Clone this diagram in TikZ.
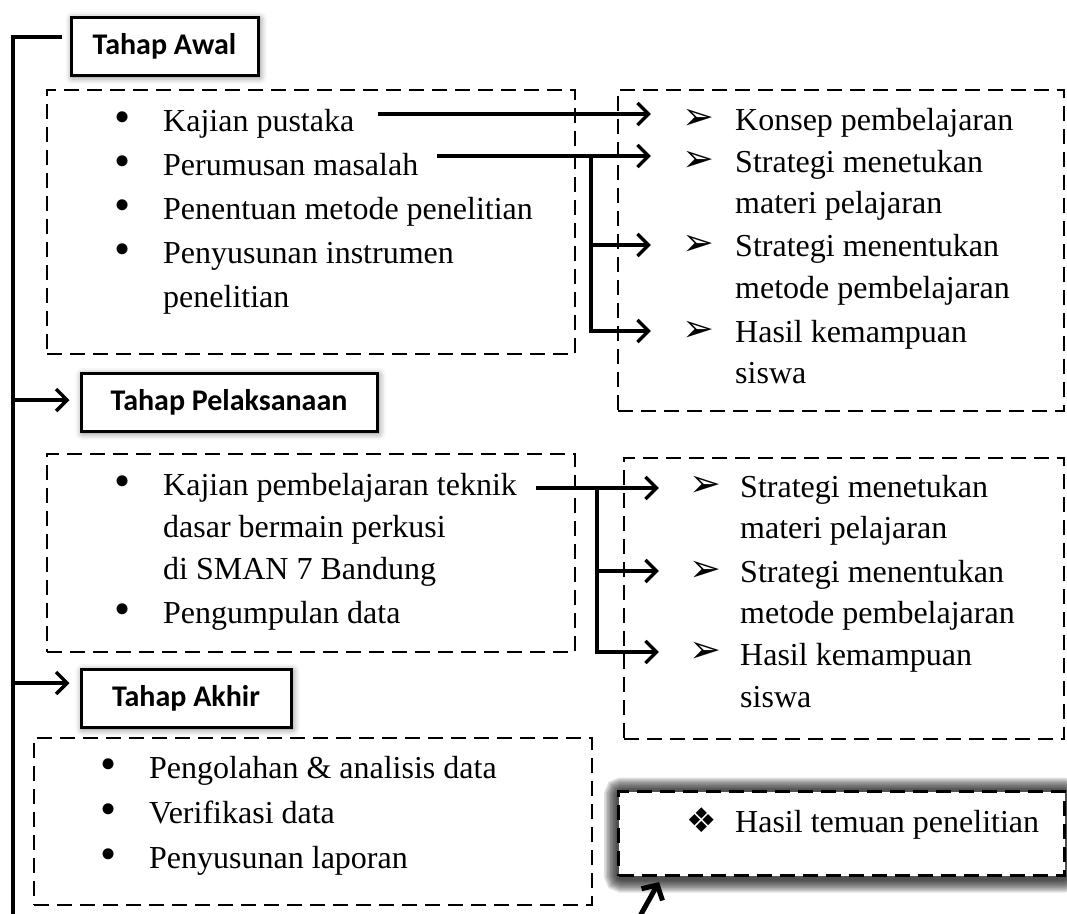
\documentclass[tikz,border=0pt]{standalone}
\usepackage{fontspec}
\setmainfont{Liberation Serif}
\newfontfamily\hfont{Carlito}
\newfontfamily\symfont{DejaVu Sans}
\usetikzlibrary{arrows.meta,shadows.blur,backgrounds,calc}
\begin{document}
\begin{tikzpicture}[x=1pt,y=-1pt,
  txt/.style={inner sep=0pt, anchor=base west, font=\fontsize{32}{40}\selectfont},
  bul/.style={inner sep=0pt, anchor=center, font=\fontsize{46}{50}\selectfont},
  abul/.style={inner sep=0pt, anchor=center, font=\symfont\fontsize{38}{40}\selectfont},
  dbox/.style={draw, line width=2.2pt, dash pattern=on 15pt off 8pt, inner sep=0pt, anchor=north west},
  hbox/.style={draw, line width=3pt, fill=white, inner sep=0pt,
    font=\hfont\bfseries\fontsize{30}{34}\selectfont,
    blur shadow={shadow xshift=1.5pt, shadow yshift=-2pt, shadow blur radius=7pt, shadow opacity=55}},
  spine/.style={line width=4pt},
  arr/.style={line width=3.4pt, -{Straight Barb[length=11pt,width=22pt,line width=3.4pt]}},
  bigarr/.style={line width=5pt, -{Straight Barb[length=11pt,width=24pt,line width=5pt]}},
]
\useasboundingbox (0,0) rectangle (1067,913);

% ---------- header boxes ----------
\node[hbox, minimum width=187, minimum height=58] (awal)  at (164.5,46) {Tahap Awal};
\node[hbox, minimum width=296, minimum height=58] (pelak) at (229,402)  {Tahap Pelaksanaan};
\node[hbox, minimum width=210, minimum height=58] (akhir) at (186,698)  {Tahap Akhir};

% ---------- dashed boxes ----------
\node[dbox, minimum width=528, minimum height=264] (B1) at (46,89)  {};
\node[dbox, minimum width=446, minimum height=321] (R1) at (617,89) {};
\node[dbox, minimum width=528, minimum height=198] (B2) at (46,453) {};
\node[dbox, minimum width=440, minimum height=281] (R2) at (623,457) {};
\node[dbox, minimum width=558, minimum height=167] (B3) at (33,737) {};

% result box with dark glow
\node[draw, line width=3pt, dash pattern=on 15pt off 8pt, fill=white, inner sep=0pt,
      anchor=north west, minimum width=446, minimum height=84] (H) at (617,790) {};
\begin{scope}[on background layer]
  \foreach \w in {28,25,22,19,16,13,10,7,4}
    \draw[line width=\w pt, black, opacity=0.12, rounded corners=4pt]
      ([shift={(1,1.5)}]H.north west) rectangle ([shift={(1,1.5)}]H.south east);
\end{scope}

% ---------- box 1 texts ----------
\node[bul] (ab1) at (122.5,122) {\textbullet};
\node[txt] (a1) at (163,131) {Kajian pustaka};
\node[bul] (ab2) at (122.5,166) {\textbullet};
\node[txt] (a2) at (163,175) {Perumusan masalah};
\node[bul] (ab3) at (122.5,210) {\textbullet};
\node[txt] (a3) at (163,219) {Penentuan metode penelitian};
\node[bul] (ab4) at (122.5,254) {\textbullet};
\node[txt] (a4) at (163,263) {Penyusunan instrumen};
\node[txt] (a4b) at (163,307) {penelitian};

% ---------- right box 1 texts ----------
\node[abul] (rb1) at (698,119) {➢};
\node[txt] (r1) at (735,130) {Konsep pembelajaran};
\node[abul] (rb2) at (698,161) {➢};
\node[txt] (r2) at (735,172) {Strategi menetukan};
\node[txt] (r2b) at (735,213) {materi pelajaran};
\node[abul] (rb3) at (698,245) {➢};
\node[txt] (r3) at (735,256) {Strategi menentukan};
\node[txt] (r3b) at (735,298) {metode pembelajaran};
\node[abul] (rb4) at (698,331) {➢};
\node[txt] (r4) at (735,342) {Hasil kemampuan};
\node[txt] (r4b) at (735,383) {siswa};

% ---------- box 2 texts ----------
\node[bul] (kb1) at (122.5,486) {\textbullet};
\node[txt] (k1) at (163,495) {Kajian pembelajaran teknik};
\node[txt] (k1b) at (163,537) {dasar bermain perkusi};
\node[txt] (k1c) at (163,579) {di SMAN 7 Bandung};
\node[bul] (kb2) at (122.5,614) {\textbullet};
\node[txt] (k2) at (163,623) {Pengumpulan data};

% ---------- right box 2 texts ----------
\node[abul] (qb1) at (705,486) {➢};
\node[txt] (q1) at (740,497) {Strategi menetukan};
\node[txt] (q1b) at (740,538) {materi pelajaran};
\node[abul] (qb2) at (705,571) {➢};
\node[txt] (q2) at (740,582) {Strategi menentukan};
\node[txt] (q2b) at (740,623) {metode pembelajaran};
\node[abul] (qb3) at (705,652) {➢};
\node[txt] (q3) at (740,665) {Hasil kemampuan};
\node[txt] (q3b) at (740,707) {siswa};

% ---------- box 3 texts ----------
\node[bul] (pb1) at (109,769) {\textbullet};
\node[txt] (p1) at (149,778) {Pengolahan \& analisis data};
\node[bul] (pb2) at (109,814) {\textbullet};
\node[txt] (p2) at (149,823) {Verifikasi data};
\node[bul] (pb3) at (109,859) {\textbullet};
\node[txt] (p3) at (149,868) {Penyusunan laporan};

% ---------- result texts ----------
\node[inner sep=0pt, font=\symfont\fontsize{34}{36}\selectfont] (hb) at (702,820) {❖};
\node[txt] (ht) at (735,832) {Hasil temuan penelitian};

% ---------- spine ----------
\coordinate (top) at (13,37);
\coordinate (bot) at (13,925);
\draw[spine] ([xshift=-8pt]awal.west |- top) -- (top) -- (bot);
\coordinate (pa) at ([xshift=-10pt,yshift=2pt]pelak.west);
\draw[arr] (pa -| top) -- (pa);
\coordinate (aa) at ([xshift=-10pt,yshift=15pt]akhir.west);
\draw[arr] (aa -| top) -- (aa);

% ---------- arrows group 1 ----------
\coordinate (s1) at ([shift={(24,-17)}]a1.base east);
\coordinate (s2) at ([shift={(19,-19)}]a2.base east);
\coordinate (e1) at ([xshift=-31pt]rb1.west);
\coordinate (e2) at ([xshift=-31pt]rb2.west);
\coordinate (e3) at ([xshift=-31pt]rb3.west);
\coordinate (e4) at ([xshift=-31pt]rb4.west);
\coordinate (bx1) at ([xshift=-26pt]R1.west);
\draw[arr] (s1) -- (s1 -| e1);
\draw[arr] (s2) -- (s2 -| e2);
\draw[arr] (s2 -| bx1) |- (e4);
\draw[arr] (e3 -| bx1) -- (e3);

% ---------- arrows group 2 ----------
\coordinate (sk) at ([shift={(19,-7)}]k1.base east);
\coordinate (f1) at ([xshift=-30pt]qb1.west);
\coordinate (f2) at ([xshift=-30pt]qb2.west);
\coordinate (f3) at ([xshift=-30pt]qb3.west);
\coordinate (bx2) at ([xshift=-26pt]R2.west);
\draw[arr] (sk) -- (sk -| f1);
\draw[arr] (sk -| bx2) |- (f3);
\draw[arr] (f2 -| bx2) -- (f2);

% ---------- arrow to result ----------
\coordinate (hs) at (635,925);
\draw[bigarr] (hs) -- ([shift={(42,5)}]H.south west);
\end{tikzpicture}
\end{document}
